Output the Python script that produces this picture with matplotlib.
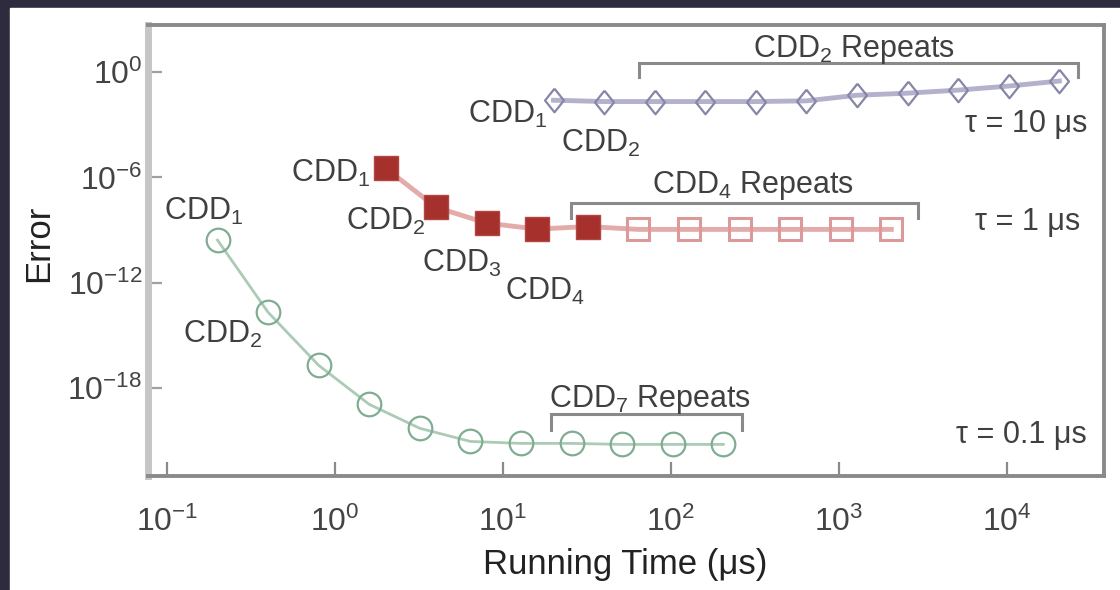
import numpy as np
import matplotlib
matplotlib.use("Agg")
import matplotlib.pyplot as plt
from matplotlib.patches import Rectangle

plt.rcParams['font.family'] = ['Liberation Sans', 'DejaVu Sans']
plt.rcParams['mathtext.fontset'] = 'custom'
plt.rcParams['mathtext.rm'] = 'Liberation Sans'
plt.rcParams['mathtext.it'] = 'Liberation Sans:italic'
plt.rcParams['mathtext.bf'] = 'Liberation Sans:bold'

# running times (us) and errors
t_01 = [0.2, 0.4, 0.8, 1.6, 3.2, 6.4, 12.8, 25.6, 51.2, 102.4, 204.8]
err_01 = [2.7e-10, 2.1e-14, 2.0e-17, 1.2e-19, 5.2e-21, 9.3e-22, 7.2e-22,
          7.2e-22, 6.3e-22, 6.3e-22, 6.3e-22]

t_1 = [2, 4, 8, 16, 32, 64, 128, 256, 512, 1024, 2048]
err_1 = [3.4e-6, 2.0e-8, 2.5e-9, 1.15e-9, 1.6e-9, 1.1e-9, 1.1e-9,
         1.1e-9, 1.1e-9, 1.1e-9, 1.1e-9]
n_filled_1 = 5

t_10 = [20, 40, 80, 160, 320, 640, 1280, 2560, 5120, 10240, 20480]
err_10 = [0.025, 0.021, 0.021, 0.021, 0.021, 0.023, 0.048, 0.063, 0.094,
          0.16, 0.31]

# index where the repeats start for each series
rep_01 = 7
rep_1 = 4
rep_10 = 2

xticks = [1e-1, 1e0, 1e1, 1e2, 1e3, 1e4]
yticks = [1e0, 1e-6, 1e-12, 1e-18]

TXT = '#404040'
GREY = '#8a8a8a'
FS = 22

fig = plt.figure(figsize=(11.2, 5.9), dpi=100)
fig.patch.set_facecolor('#2e2b3f')
fig.add_artist(Rectangle((10 / 1120, 0), 1 - 10 / 1120, 1 - 8 / 590,
                         transform=fig.transFigure, color='white', zorder=-10))
ax = fig.add_axes([0.1321, 0.1932, 0.8536, 0.7644])

# tau = 0.1 us
ax.plot(t_01, err_01, color='#abcbb6', lw=2, marker='o', ms=17,
        mfc='none', mec='#80ad92', mew=1.6, zorder=3)

# tau = 1 us
ax.plot(t_1, err_1, color='#e4abab', lw=3.5, zorder=2)
ax.plot(t_1[n_filled_1:], err_1[n_filled_1:], ls='none', marker='s', ms=16,
        mfc='none', mec='#dc9999', mew=2.2, zorder=3)
ax.plot(t_1[:n_filled_1], err_1[:n_filled_1], ls='none', marker='s', ms=17,
        color='#a5302c', mec='#b24642', mew=1, zorder=4)

# tau = 10 us
diamond = [(0, 1), (0.8, 0), (0, -1), (-0.8, 0), (0, 1)]
ax.plot(t_10, err_10, color='#b3b1cb', lw=3.5, marker=diamond, ms=17,
        mfc='none', mec='#8785a8', mew=1.6, zorder=3)

ax.set_xscale('log')
ax.set_yscale('log')
ax.set_xlim(10 ** -1.113, 10 ** 4.577)
ax.set_ylim(1e-23, 10 ** 2.68)
ax.set_xticks(xticks)
ax.set_yticks(yticks)
ax.minorticks_off()
ax.tick_params(axis='x', direction='in', length=10, width=1.6, color=GREY,
               labelsize=23, labelcolor='#444444', pad=22)
ax.tick_params(axis='y', direction='in', length=10, width=1.6, color='#a0a0a0',
               labelsize=23, labelcolor='#444444', pad=4)

for side in ['top', 'right', 'bottom']:
    ax.spines[side].set_color(GREY)
    ax.spines[side].set_linewidth(2.8)
ax.spines['left'].set_color('#c6c6c6')
ax.spines['left'].set_linewidth(5)

ax.set_xlabel('Running Time (μs)', fontsize=25, color='#222222')
ax.set_ylabel('Error', fontsize=25, color='#222222')
ax.xaxis.set_label_coords(0.499, -0.16)
ax.yaxis.set_label_coords(-0.097, 0.517)

# point labels
labels = [
    ('CDD$_1$', 0.166, 3.7e-9), ('CDD$_2$', 0.215, 3.7e-16),
    ('CDD$_1$', 0.946, 5.5e-7), ('CDD$_2$', 1.99, 1.0e-9),
    ('CDD$_3$', 5.7, 4.1e-12), ('CDD$_4$', 17.8, 1.0e-13),
    ('CDD$_1$', 10.6, 1.25e-3), ('CDD$_2$', 38.3, 2.8e-5),
    ('CDD$_2$ Repeats', 1227, 7.1), ('CDD$_4$ Repeats', 308, 1.3e-7),
    ('CDD$_7$ Repeats', 75, 8.3e-20),
]
for s, x, y in labels:
    ax.text(x, y, s, fontsize=FS, color=TXT, ha='center', va='baseline')

ax.text(29900, 10 ** -3.42, 'τ = 10 μs', fontsize=FS, color=TXT,
        ha='right', va='baseline')
ax.text(27200, 1.0e-9, 'τ = 1 μs', fontsize=FS, color=TXT,
        ha='right', va='baseline')
ax.text(29900, 10 ** -21.13, 'τ = 0.1 μs', fontsize=FS, color=TXT,
        ha='right', va='baseline')


# brackets over the repeated blocks
def bracket(t, start, top, low, lo_f, hi_f):
    x0 = t[start] * lo_f
    x1 = t[-1] * hi_f
    ax.plot([x0, x0, x1, x1], [low, top, top, low], color=GREY, lw=2.2,
            solid_joinstyle='miter', zorder=1)


bracket(t_10, rep_10, 10 ** 0.51, 10 ** -0.28, 0.81, 1.3)
bracket(t_1, rep_1, 10 ** -7.46, 10 ** -8.31, 0.79, 1.45)
bracket(t_01, rep_01, 10 ** -19.48, 10 ** -20.39, 0.75, 1.3)

fig.savefig('out.png', dpi=100, facecolor=fig.get_facecolor())
